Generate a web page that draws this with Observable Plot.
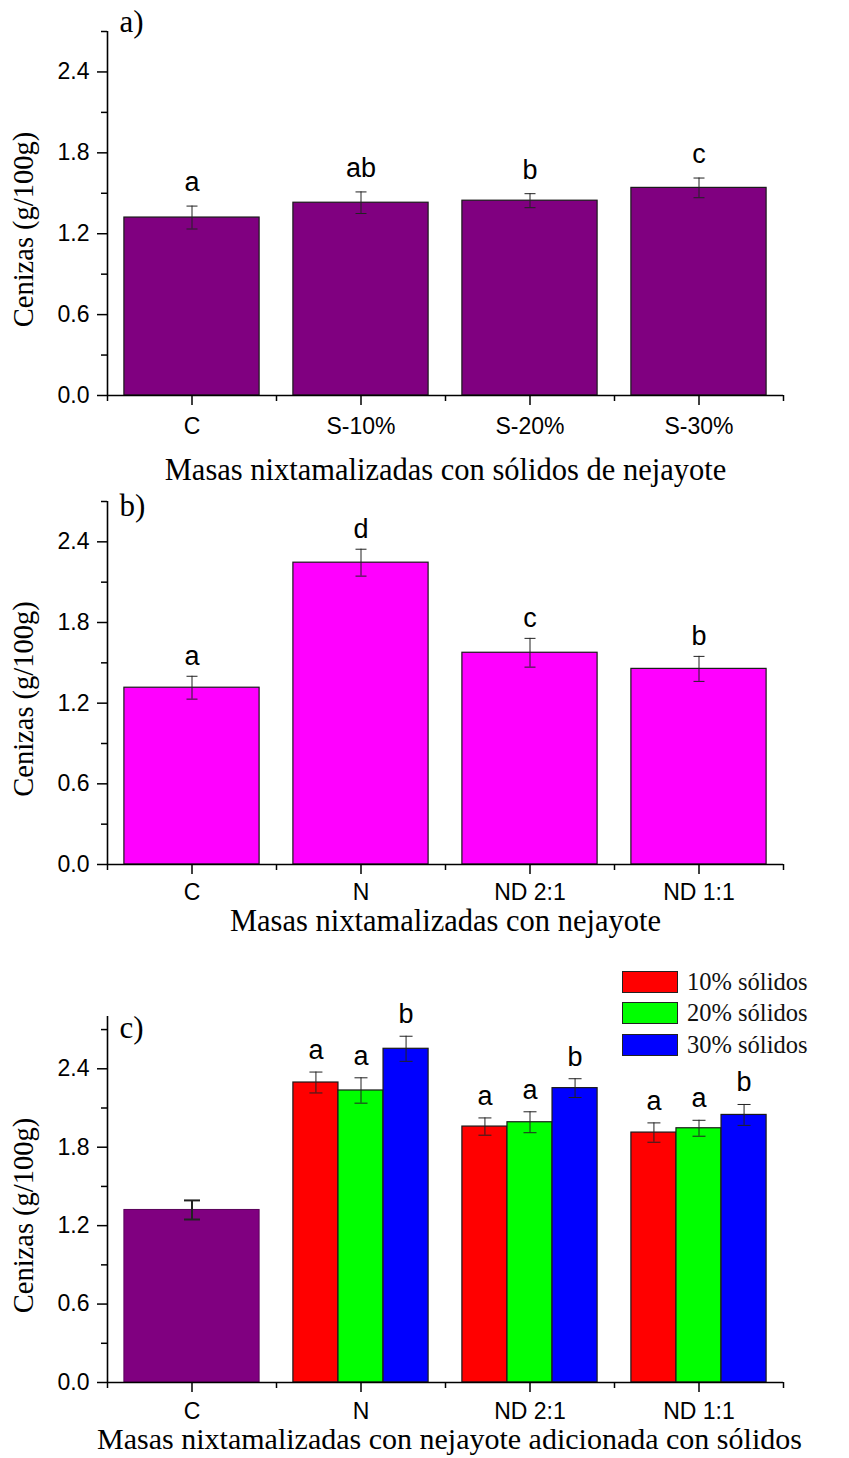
<!DOCTYPE html>
<html><head><meta charset="utf-8">
<script src="https://cdn.jsdelivr.net/npm/d3@7"></script>
<script src="https://cdn.jsdelivr.net/npm/@observablehq/plot@0.6"></script>
<style>
body{margin:0;background:#fff;}
#wrap{position:relative;width:849px;height:1458px;background:#fff;overflow:hidden}
.panel{position:absolute;left:0}
#legend{position:absolute;left:622px;top:966px;font-family:"Liberation Serif","Times New Roman",serif;font-size:24.5px;color:#111}
.row{display:flex;align-items:center;height:31.5px}
.sw{width:56px;height:22px;border:1.5px solid #222;box-sizing:border-box;margin-right:9px}
</style></head>
<body><div id="wrap"></div>
<script>
// ---------- data ----------
const yLabel = "Cenizas (g/100g)";
const yTicksMajor = [0, 0.6, 1.2, 1.8, 2.4];
const yTicksMinor = [0.3, 0.9, 1.5, 2.1, 2.7];

const catsA = ["C", "S-10%", "S-20%", "S-30%"];
const valuesA = [1.32, 1.43, 1.445, 1.54];
const errorsA = [0.085, 0.08, 0.052, 0.073];
const lettersA = ["a", "ab", "b", "c"];
const titleA = "Masas nixtamalizadas con sólidos de nejayote";

const catsB = ["C", "N", "ND 2:1", "ND 1:1"];
const valuesB = [1.315, 2.245, 1.575, 1.455];
const errorsB = [0.085, 0.1, 0.107, 0.093];
const lettersB = ["a", "d", "c", "b"];
const titleB = "Masas nixtamalizadas con nejayote";

const catsC = ["C", "N", "ND 2:1", "ND 1:1"];
const seriesC = ["10% sólidos", "20% sólidos", "30% sólidos"];
const controlValueC = 1.32;
const controlErrorC = 0.073;
const values10 = [2.295, 1.958, 1.912];
const values20 = [2.234, 1.991, 1.945];
const values30 = [2.553, 2.252, 2.047];
const errors10 = [0.08, 0.066, 0.074];
const errors20 = [0.097, 0.08, 0.061];
const errors30 = [0.096, 0.072, 0.08];
const letters10 = ["a", "a", "a"];
const letters20 = ["a", "a", "a"];
const letters30 = ["b", "b", "b"];
const titleC = "Masas nixtamalizadas con nejayote adicionada con sólidos";

// ---------- style ----------
const PURPLE = "#800080", MAGENTA = "#FF00FF";
const seriesColors = ["#FF0000", "#00FF00", "#0000FF"];
const SANS = "'Liberation Sans', Arial, sans-serif";
const SERIF = "'Liberation Serif', 'Times New Roman', serif";
const BAR = 0.8;
const capSymbol = {draw(ctx, size) { const r = Math.sqrt(size / Math.PI); ctx.moveTo(-r, 0); ctx.lineTo(r, 0); }};

function frameMarks(cats, o) {
  return [
    Plot.axisY({ticks: yTicksMajor, tickSize: 10, tickPadding: 8, tickFormat: d => d.toFixed(1), label: null, strokeWidth: 1.5}),
    Plot.axisY({ticks: yTicksMinor, tickSize: 6, tickFormat: () => "", label: null, strokeWidth: 1.5}),
    Plot.axisX({ticks: d3.range(cats.length), tickSize: 10, tickPadding: o.tickPad, tickFormat: i => cats[i], label: null, strokeWidth: 1.5}),
    Plot.axisX({ticks: d3.range(cats.length + 1).map(i => i - 0.5), tickSize: 6, tickFormat: () => "", label: null, strokeWidth: 1.5}),
    Plot.ruleX([-0.5], {strokeWidth: 1.6}),
    Plot.ruleY([0], {strokeWidth: 1.6}),
    Plot.text([o.panel], {frameAnchor: "top-left", dx: 12, dy: o.panelDy, lineAnchor: "bottom", textAnchor: "start", fontFamily: SERIF, fontSize: 31}),
    Plot.text([yLabel], {frameAnchor: "left", rotate: -90, dx: -95, dy: 16, lineAnchor: "top", textAnchor: "middle", fontFamily: SERIF, fontSize: 28.5}),
    Plot.text([o.title], {frameAnchor: "bottom", dy: o.titleDy, dx: o.titleDx || 0, lineAnchor: "bottom", textAnchor: "middle", fontFamily: SERIF, fontSize: o.titleSize || 30.5})
  ];
}

function errMarks(data, o) {
  return [
    Plot.ruleX(data, {x: "x", y1: d => d.value - d.err, y2: d => d.value + d.err, stroke: "#222", strokeWidth: o.sw || 1}),
    Plot.dot(data, {x: "x", y: d => d.value + d.err, symbol: capSymbol, r: o.cap, stroke: "#222", fill: "none", strokeWidth: o.sw || 1}),
    Plot.dot(data, {x: "x", y: d => d.value - d.err, symbol: capSymbol, r: o.cap, stroke: "#222", fill: "none", strokeWidth: o.sw || 1})
  ];
}

const commonStyle = {fontFamily: SANS, fontSize: "23px", color: "#000", background: "transparent", overflow: "visible"};

function simplePanel(cats, values, errors, letters, color, o) {
  const data = cats.map((c, i) => ({x: i, value: values[i], err: errors[i], letter: letters[i]}));
  return Plot.plot({
    width: 849, height: o.height, marginLeft: 107, marginRight: 66, marginTop: o.mt, marginBottom: o.mb,
    x: {type: "linear", domain: [-0.5, cats.length - 0.5]},
    y: {domain: [0, o.ymax]},
    style: commonStyle,
    marks: [
      Plot.rectY(data, {x1: d => d.x - BAR / 2, x2: d => d.x + BAR / 2, y1: 0, y2: "value", fill: color, stroke: "#1a1a1a", strokeWidth: 1.2}),
      ...errMarks(data, {cap: 5.5}),
      Plot.text(data, {x: "x", y: d => d.value + d.err, text: "letter", lineAnchor: "bottom", dy: -o.letterGap, fontSize: 27, fontFamily: SANS}),
      ...frameMarks(cats, o)
    ]
  });
}

const wrap = document.getElementById("wrap");
function place(svg, top) { const d = document.createElement("div"); d.className = "panel"; d.style.top = top + "px"; d.appendChild(svg); wrap.appendChild(d); }

place(simplePanel(catsA, valuesA, errorsA, lettersA, PURPLE,
  {height: 490, mt: 31, mb: 95, ymax: 2.7, tickPad: 12, panel: "a)", panelDy: 0, title: titleA, titleDy: 84, letterGap: 15}), 0);

place(simplePanel(catsB, valuesB, errorsB, lettersB, MAGENTA,
  {height: 460, mt: 11, mb: 86, ymax: 2.7, tickPad: 9, panel: "b)", panelDy: 14, title: titleB, titleDy: 66, letterGap: 11}), 490);

// panel c
const step = BAR / seriesC.length;
const groupValues = [values10, values20, values30];
const groupErrors = [errors10, errors20, errors30];
const groupLetters = [letters10, letters20, letters30];
const dataC = [];
catsC.slice(1).forEach((c, k) => {
  const i = k + 1;
  seriesC.forEach((s, j) => {
    const x1 = i - BAR / 2 + j * step;
    dataC.push({cat: c, series: s, x1, x2: x1 + step, x: x1 + step / 2,
      value: groupValues[j][k], err: groupErrors[j][k], letter: groupLetters[j][k]});
  });
});
const controlData = [{x: 0, value: controlValueC, err: controlErrorC}];

const plotC = Plot.plot({
  width: 849, height: 508, marginLeft: 107, marginRight: 66, marginTop: 66, marginBottom: 76,
  x: {type: "linear", domain: [-0.5, catsC.length - 0.5]},
  y: {domain: [0, 2.8]},
  color: {domain: seriesC, range: seriesColors},
  style: commonStyle,
  marks: [
    Plot.rectY(controlData, {x1: d => d.x - BAR / 2, x2: d => d.x + BAR / 2, y1: 0, y2: "value", fill: PURPLE, stroke: "#5a005a", strokeWidth: 1}),
    Plot.rectY(dataC, {x1: "x1", x2: "x2", y1: 0, y2: "value", fill: "series", stroke: "#1a1a1a", strokeWidth: 1.2}),
    ...errMarks(controlData, {cap: 8, sw: 2}),
    ...errMarks(dataC, {cap: 6.5}),
    Plot.text(dataC, {x: "x", y: d => d.value + d.err, text: "letter", lineAnchor: "bottom", dy: -13, fontSize: 27, fontFamily: SANS}),
    ...frameMarks(catsC, {tickPad: 10, panel: "c)", panelDy: 21, title: titleC, titleDy: 66, titleDx: 4, titleSize: 30})
  ]
});
place(plotC, 950);

// legend
const legend = d3.select("#wrap").append("div").attr("id", "legend");
seriesC.forEach((s, j) => {
  const row = legend.append("div").attr("class", "row");
  row.append("div").attr("class", "sw").style("background", seriesColors[j]);
  row.append("span").text(s);
});
</script>
</body></html>
